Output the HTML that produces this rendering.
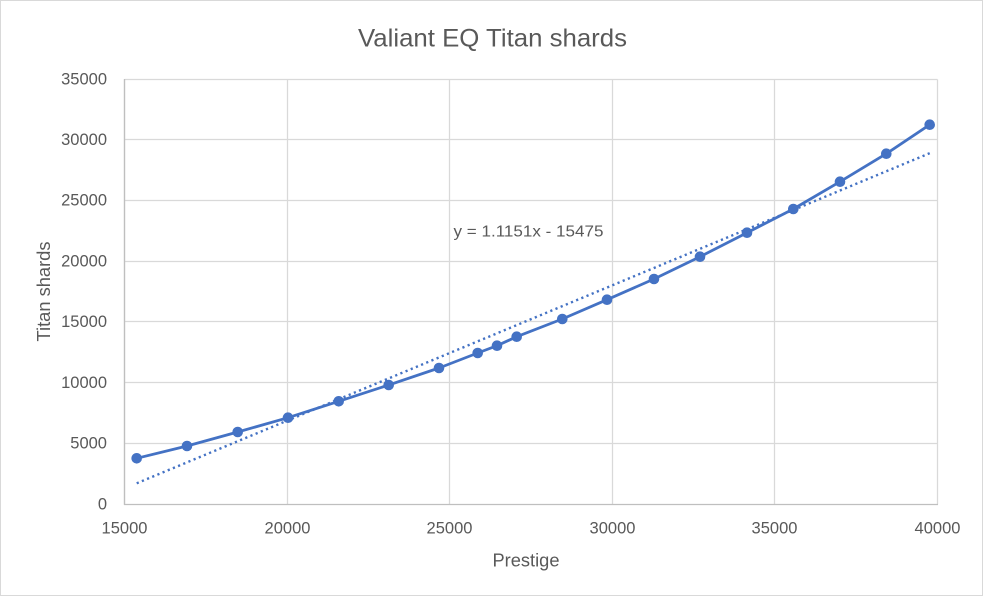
<!DOCTYPE html>
<html>
<head>
<meta charset="utf-8">
<style>
html,body{margin:0;padding:0;background:#fff;}
svg{display:block;}
text{font-family:"Liberation Sans",sans-serif;fill:#595959;}
</style>
</head>
<body>
<svg width="984" height="597" viewBox="0 0 984 597" xmlns="http://www.w3.org/2000/svg">
<rect x="0" y="0" width="984" height="597" fill="#fff"/>
<rect x="0.5" y="0.5" width="982" height="595" fill="none" stroke="#d9d9d9" stroke-width="1"/>

<text x="492.5" y="46.5" font-size="25" text-anchor="middle" textLength="269" lengthAdjust="spacingAndGlyphs">Valiant EQ Titan shards</text>

<g stroke="#d9d9d9" stroke-width="1.3" fill="none">
<line x1="124.5" y1="79.5" x2="937.5" y2="79.5"/>
<line x1="124.5" y1="139.5" x2="937.5" y2="139.5"/>
<line x1="124.5" y1="200.5" x2="937.5" y2="200.5"/>
<line x1="124.5" y1="261.5" x2="937.5" y2="261.5"/>
<line x1="124.5" y1="321.5" x2="937.5" y2="321.5"/>
<line x1="124.5" y1="382.5" x2="937.5" y2="382.5"/>
<line x1="124.5" y1="443.5" x2="937.5" y2="443.5"/>
<line x1="124.5" y1="79.5" x2="124.5" y2="504.5"/>
<line x1="287.5" y1="79.5" x2="287.5" y2="504.5"/>
<line x1="449.5" y1="79.5" x2="449.5" y2="504.5"/>
<line x1="612.5" y1="79.5" x2="612.5" y2="504.5"/>
<line x1="774.5" y1="79.5" x2="774.5" y2="504.5"/>
<line x1="937.5" y1="79.5" x2="937.5" y2="504.5"/>
</g>
<line x1="124" y1="504.5" x2="938" y2="504.5" stroke="#bfbfbf" stroke-width="1.3"/>
<line x1="124.5" y1="79" x2="124.5" y2="505" stroke="#bfbfbf" stroke-width="1.3"/>

<g font-size="16.5" text-anchor="end">
<text x="107" y="84.5">35000</text>
<text x="107" y="145">30000</text>
<text x="107" y="205.5">25000</text>
<text x="107" y="266.5">20000</text>
<text x="107" y="327">15000</text>
<text x="107" y="388">10000</text>
<text x="107" y="448.5">5000</text>
<text x="107" y="509.5">0</text>
</g>
<g font-size="16.5" text-anchor="middle">
<text x="124.5" y="533.5">15000</text>
<text x="287.5" y="533.5">20000</text>
<text x="449.5" y="533.5">25000</text>
<text x="612.5" y="533.5">30000</text>
<text x="774.5" y="533.5">35000</text>
<text x="937.5" y="533.5">40000</text>
</g>

<text x="526" y="566.5" font-size="18" text-anchor="middle" textLength="67" lengthAdjust="spacingAndGlyphs">Prestige</text>
<text transform="translate(50,291.5) rotate(-90)" x="0" y="0" font-size="18" text-anchor="middle" textLength="100" lengthAdjust="spacingAndGlyphs">Titan shards</text>

<line x1="136.7" y1="483.3" x2="929.7" y2="153.2" stroke="#4472c4" stroke-width="2.4" stroke-dasharray="2.2 3.4"/>

<polyline fill="none" stroke="#4472c4" stroke-width="2.8" stroke-linejoin="round" points="136.7,458.3 187,446 237.7,432 288,417.7 338.7,401.3 388.7,385 439,368 477.7,353 497,345.7 516.7,336.7 562.3,319 607,299.7 654,279 700,256.7 747,232.7 793.3,209 840,181.7 886.3,153.7 929.7,124.7"/>
<g fill="#4472c4">
<circle cx="136.7" cy="458.3" r="5.3"/>
<circle cx="187" cy="446" r="5.3"/>
<circle cx="237.7" cy="432" r="5.3"/>
<circle cx="288" cy="417.7" r="5.3"/>
<circle cx="338.7" cy="401.3" r="5.3"/>
<circle cx="388.7" cy="385" r="5.3"/>
<circle cx="439" cy="368" r="5.3"/>
<circle cx="477.7" cy="353" r="5.3"/>
<circle cx="497" cy="345.7" r="5.3"/>
<circle cx="516.7" cy="336.7" r="5.3"/>
<circle cx="562.3" cy="319" r="5.3"/>
<circle cx="607" cy="299.7" r="5.3"/>
<circle cx="654" cy="279" r="5.3"/>
<circle cx="700" cy="256.7" r="5.3"/>
<circle cx="747" cy="232.7" r="5.3"/>
<circle cx="793.3" cy="209" r="5.3"/>
<circle cx="840" cy="181.7" r="5.3"/>
<circle cx="886.3" cy="153.7" r="5.3"/>
<circle cx="929.7" cy="124.7" r="5.3"/>
</g>

<text x="453.5" y="236.5" font-size="16" textLength="150" lengthAdjust="spacingAndGlyphs">y = 1.1151x - 15475</text>
</svg>
</body>
</html>
